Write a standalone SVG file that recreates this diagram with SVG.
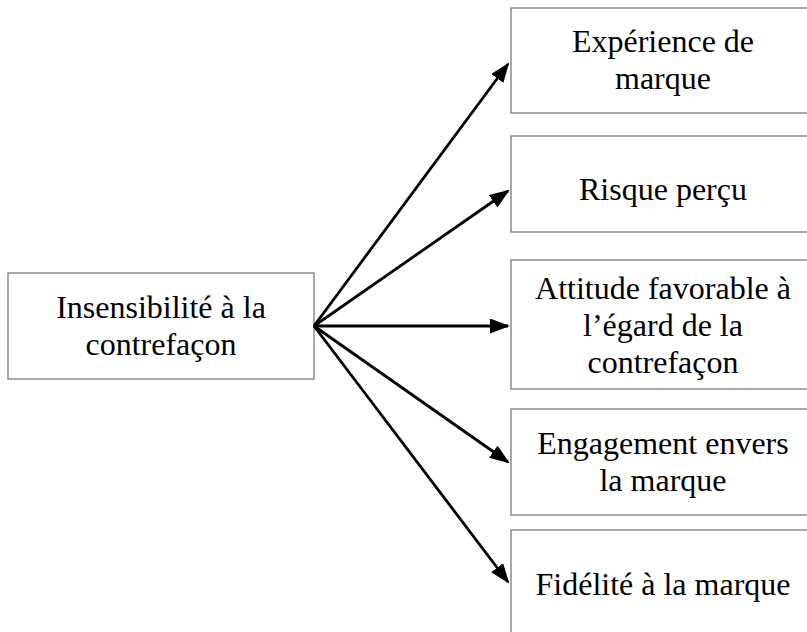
<svg xmlns="http://www.w3.org/2000/svg" width="807" height="632" viewBox="0 0 807 632">
<style>
.box{fill:#ffffff;stroke:#6e6e6e;stroke-width:1.2}
.t{font-family:"Liberation Serif","Times New Roman",serif;font-size:32px;fill:#000;text-anchor:middle}
.c{stroke:#000;stroke-width:2.8;fill:none;marker-end:url(#ah)}
</style>
<defs>
<marker id="ah" markerUnits="userSpaceOnUse" markerWidth="22" markerHeight="16" refX="18" refY="7.5" orient="auto">
<path d="M0,0 L20,7.5 L0,15 z" fill="#000"/>
</marker>
</defs>
<rect width="807" height="632" fill="#fff"/>
<g id="n0">
<rect class="box" x="8" y="273" width="306" height="106"/>
<text class="t" x="161" y="318">Insensibilité à la</text>
<text class="t" x="161" y="355">contrefaçon</text>
</g>
<g id="n1">
<rect class="box" x="511" y="8" width="304" height="105"/>
<text class="t" x="663" y="52">Expérience de</text>
<text class="t" x="663" y="89">marque</text>
</g>
<g id="n2">
<rect class="box" x="511" y="136" width="304" height="96"/>
<text class="t" x="663" y="200">Risque perçu</text>
</g>
<g id="n3">
<rect class="box" x="511" y="260" width="304" height="129"/>
<text class="t" x="663" y="299">Attitude favorable à</text>
<text class="t" x="663" y="336">l’égard de la</text>
<text class="t" x="663" y="373">contrefaçon</text>
</g>
<g id="n4">
<rect class="box" x="511" y="409" width="304" height="106"/>
<text class="t" x="663" y="454">Engagement envers</text>
<text class="t" x="663" y="491">la marque</text>
</g>
<g id="n5">
<rect class="box" x="511" y="530" width="304" height="110"/>
<text class="t" x="663" y="595">Fidélité à la marque</text>
</g>
<g id="connectors">
<line class="c" x1="314" y1="326" x2="508" y2="64"/>
<line class="c" x1="314" y1="326" x2="508" y2="191"/>
<line class="c" x1="314" y1="326" x2="508" y2="326"/>
<line class="c" x1="314" y1="326" x2="508" y2="462"/>
<line class="c" x1="314" y1="326" x2="508" y2="582"/>
</g>
</svg>
